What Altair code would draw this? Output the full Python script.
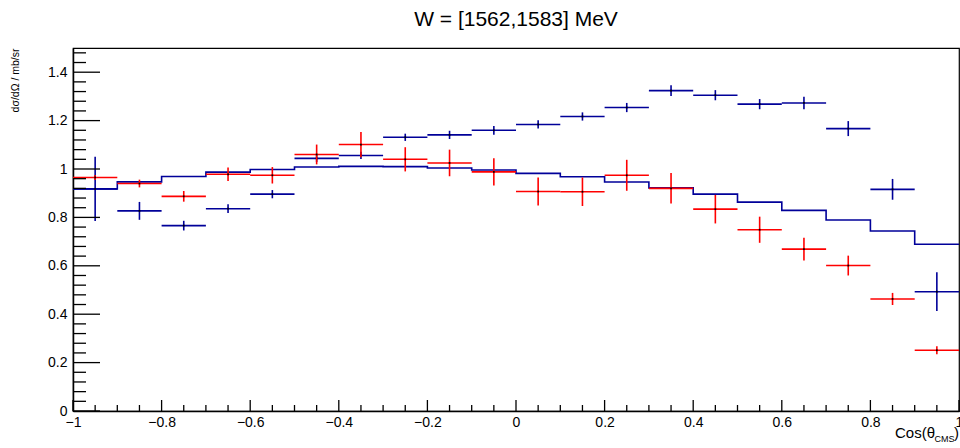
import altair as alt
import pandas as pd

# ---- data ----
centers = [-0.95, -0.85, -0.75, -0.65, -0.55, -0.45, -0.35, -0.25, -0.15, -0.05,
           0.05, 0.15, 0.25, 0.35, 0.45, 0.55, 0.65, 0.75, 0.85, 0.95]
half_width = 0.05

blue_val = [0.918, 0.827, 0.766, 0.836, 0.896, 1.044, 1.056, 1.131, 1.141, 1.160,
            1.184, 1.217, 1.254, 1.324, 1.305, 1.268, 1.273, 1.167, 0.916, 0.493]
blue_err = [0.133, 0.037, 0.020, 0.018, 0.017, 0.015, 0.015, 0.015, 0.017, 0.018,
            0.017, 0.017, 0.019, 0.022, 0.021, 0.021, 0.026, 0.031, 0.043, 0.080]

red_val = [0.965, 0.940, 0.887, 0.978, 0.974, 1.060, 1.101, 1.040, 1.025, 0.988,
           0.907, 0.906, 0.974, 0.920, 0.834, 0.749, 0.669, 0.601, 0.463, 0.251]
red_err = [0.010, 0.016, 0.022, 0.028, 0.034, 0.041, 0.052, 0.050, 0.055, 0.056,
           0.058, 0.059, 0.064, 0.063, 0.059, 0.054, 0.047, 0.041, 0.025, 0.017]

model_val = [0.918, 0.947, 0.969, 0.987, 0.998, 1.008, 1.011, 1.010, 1.004, 0.996,
             0.982, 0.968, 0.946, 0.922, 0.896, 0.863, 0.829, 0.789, 0.744, 0.689]

y_major = [0.0, 0.2, 0.4, 0.6, 0.8, 1.0, 1.2, 1.4]
y_minor = [0.04, 0.08, 0.12, 0.16, 0.24, 0.28, 0.32, 0.36, 0.44, 0.48, 0.52, 0.56,
           0.64, 0.68, 0.72, 0.76, 0.84, 0.88, 0.92, 0.96, 1.04, 1.08, 1.12, 1.16,
           1.24, 1.28, 1.32, 1.36, 1.44, 1.48]
x_major = [-1.0, -0.8, -0.6, -0.4, -0.2, 0.0, 0.2, 0.4, 0.6, 0.8, 1.0]
x_minor = [-0.95, -0.9, -0.85, -0.75, -0.7, -0.65, -0.55, -0.5, -0.45, -0.35, -0.3,
           -0.25, -0.15, -0.1, -0.05, 0.05, 0.1, 0.15, 0.25, 0.3, 0.35, 0.45, 0.5,
           0.55, 0.65, 0.7, 0.75, 0.85, 0.9, 0.95]

TITLE = "W = [1562,1583] MeV"
Y_TITLE = "dσ/dΩ / mb/sr"

BLUE = "#000099"
RED = "#ff0000"
FONT = "Liberation Sans"

W, H = 886, 363

# ---- tables ----
def points_df(vals, errs):
    return pd.DataFrame({
        "x": centers,
        "lo": [c - half_width for c in centers],
        "hi": [c + half_width for c in centers],
        "y": vals,
        "ylo": [v - e for v, e in zip(vals, errs)],
        "yhi": [v + e for v, e in zip(vals, errs)],
    })

blue_df = points_df(blue_val, blue_err)
red_df = points_df(red_val, red_err)
model_df = pd.DataFrame({
    "x": [c - half_width for c in centers] + [centers[-1] + half_width],
    "y": model_val + [model_val[-1]],
})

xs = alt.Scale(domain=[-1, 1], nice=False, zero=False)
ys = alt.Scale(domain=[0, 1.5], nice=False, zero=False)

x_axis = alt.Axis(values=x_major, format=".1~f", ticks=False, grid=False,
                  labelPadding=4, labelFontSize=14, labelFont=FONT, labelColor="black",
                  domainColor="black", domainWidth=1.5, title=None, labelFlush=False)
y_axis = alt.Axis(values=y_major, format=".1~f", ticks=False, grid=False,
                  labelPadding=6, labelFontSize=14, labelFont=FONT, labelColor="black",
                  domainColor="black", domainWidth=1.5,
                  title=Y_TITLE, titleFont=FONT, titleFontSize=10.5, titleFontWeight="normal",
                  titleAngle=-90, titleAlign="right", titleBaseline="middle",
                  titleX=-58, titleY=0, titleColor="black")


def X(field):
    return alt.X(field, scale=xs, axis=x_axis)


def Y(field):
    return alt.Y(field, scale=ys, axis=y_axis)


# model histogram (step line)
model = alt.Chart(model_df).mark_line(interpolate="step-after", color=BLUE, strokeWidth=1.6).encode(
    x=X("x:Q"), y=Y("y:Q"))


def data_layers(df, color):
    h = alt.Chart(df).mark_rule(color=color, strokeWidth=1.6).encode(
        x=X("lo:Q"), x2="hi:Q", y=Y("y:Q"))
    v = alt.Chart(df).mark_rule(color=color, strokeWidth=1.6).encode(
        x=X("x:Q"), y=Y("ylo:Q"), y2="yhi:Q")
    d = alt.Chart(df).mark_square(color="black", size=3, opacity=1).encode(
        x=X("x:Q"), y=Y("y:Q"))
    return [h, v, d]


# inward tick marks (ROOT style)
ymaj = alt.Chart(pd.DataFrame({"t": y_major})).mark_rule(color="black", strokeWidth=1.3).encode(
    y=Y("t:Q"), x=alt.value(0), x2=alt.value(27))
ymin = alt.Chart(pd.DataFrame({"t": y_minor})).mark_rule(color="black", strokeWidth=1.3).encode(
    y=Y("t:Q"), x=alt.value(0), x2=alt.value(13))
xmaj = alt.Chart(pd.DataFrame({"t": x_major})).mark_rule(color="black", strokeWidth=1.3).encode(
    x=X("t:Q"), y=alt.value(H), y2=alt.value(H - 11))
xmin = alt.Chart(pd.DataFrame({"t": x_minor})).mark_rule(color="black", strokeWidth=1.3).encode(
    x=X("t:Q"), y=alt.value(H), y2=alt.value(H - 6))

# title and x-axis title (with subscript) as text marks
one = pd.DataFrame({"a": [0]})
title = alt.Chart(one).mark_text(text=TITLE, font=FONT, fontSize=21, align="center",
                                 baseline="alphabetic", color="black").encode(
    x=alt.datum(0.0, scale=xs, axis=x_axis), y=alt.value(-22.5))
xt1 = alt.Chart(one).mark_text(text="Cos(θ", font=FONT, fontSize=15, align="right",
                               baseline="alphabetic", color="black", dx=-24).encode(
    x=alt.datum(1.0, scale=xs, axis=x_axis), y=alt.value(H + 27))
xt2 = alt.Chart(one).mark_text(text="CMS", font=FONT, fontSize=9, align="right",
                               baseline="alphabetic", color="black", dx=-4.5).encode(
    x=alt.datum(1.0, scale=xs, axis=x_axis), y=alt.value(H + 31))
xt3 = alt.Chart(one).mark_text(text=")", font=FONT, fontSize=15, align="right",
                               baseline="alphabetic", color="black", dx=0).encode(
    x=alt.datum(1.0, scale=xs, axis=x_axis), y=alt.value(H + 27))

chart = alt.layer(
    model, *data_layers(blue_df, BLUE), *data_layers(red_df, RED),
    ymaj, ymin, xmaj, xmin, title, xt1, xt2, xt3,
).properties(
    width=W, height=H,
    autosize=alt.AutoSizeParams(type="none"),
    padding={"left": 73, "top": 48, "right": 1, "bottom": 37},
    background="white",
).configure_view(stroke="black", strokeWidth=1.2)

chart.save("out.html", embed_options={"renderer": "svg", "actions": False})
